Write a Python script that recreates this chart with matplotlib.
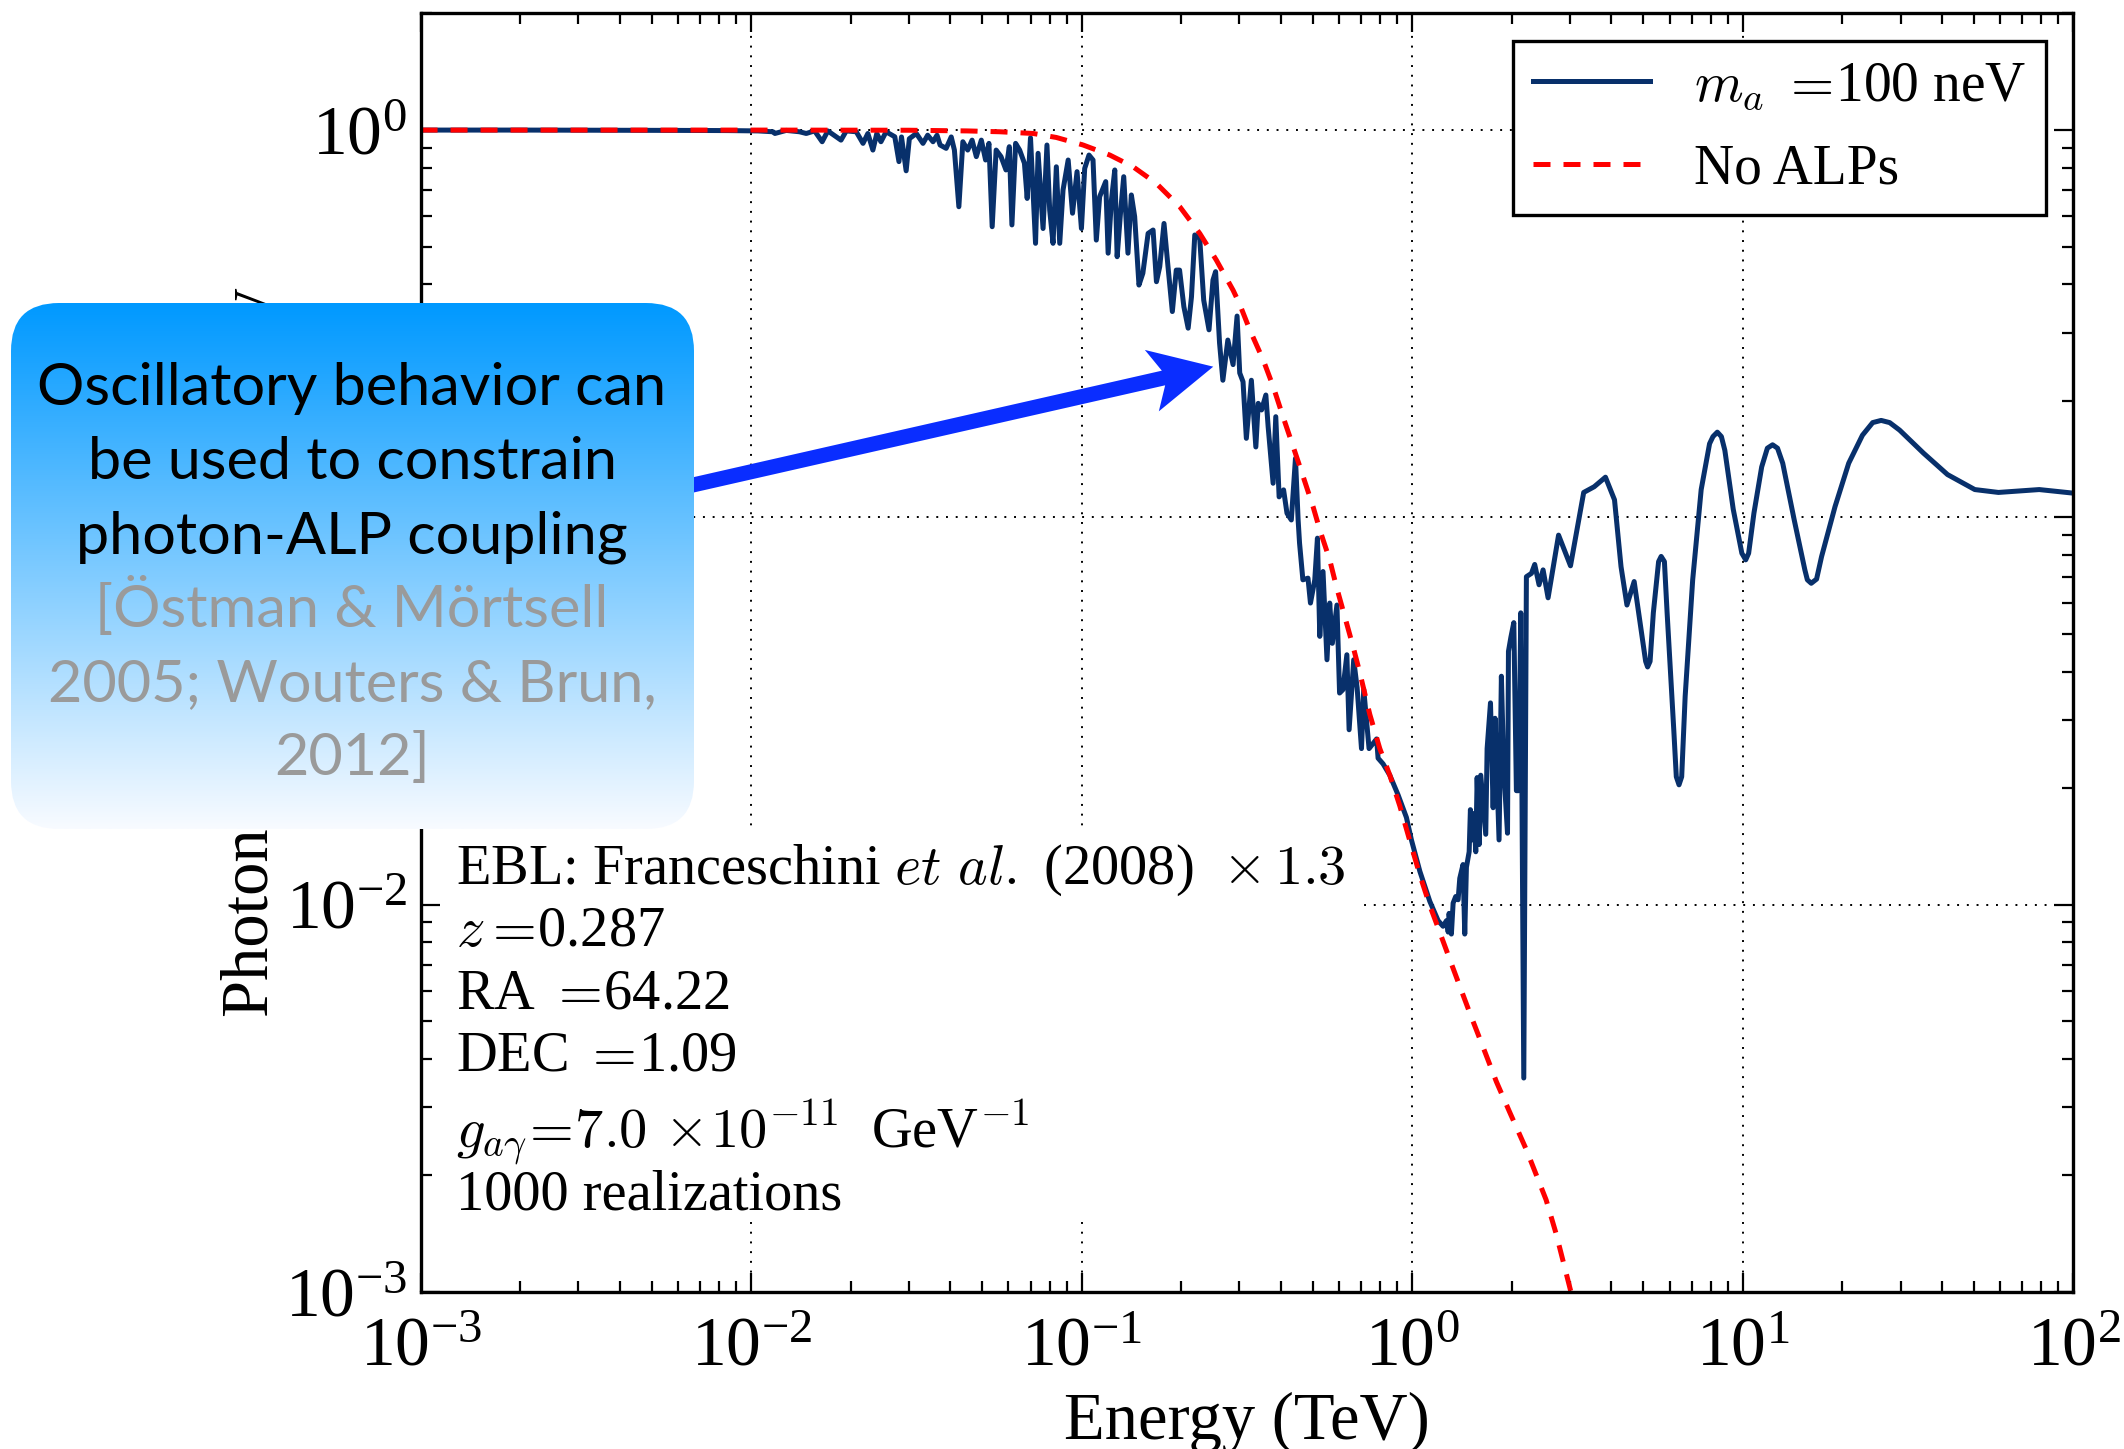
import numpy as np
import matplotlib
matplotlib.use("Agg")
import matplotlib.pyplot as plt
from matplotlib.patches import FancyBboxPatch, FancyArrow, Rectangle
from matplotlib.ticker import LogLocator

plt.rcParams['font.family'] = ['Liberation Serif', 'DejaVu Serif']
plt.rcParams['mathtext.fontset'] = 'cm'

# --- datos ---
# curva con ALPs (m_a = 100 neV), energia en TeV
energy_alp = [
    0.001, 0.002, 0.004, 0.006, 0.0085, 0.0105,
    0.01164, 0.0118, 0.01277, 0.0140, 0.01468, 0.01556, 0.0164, 0.01706, 0.0187, 0.0194,
    0.0208, 0.0218, 0.02255, 0.02335, 0.0240, 0.0247, 0.0256, 0.0272, 0.0280, 0.0285,
    0.02944, 0.0301, 0.0316, 0.0331, 0.0342, 0.0355, 0.0365, 0.0373, 0.0389, 0.0403,
    0.0412, 0.0425, 0.0437, 0.0452, 0.0466, 0.048, 0.0497, 0.0512, 0.0524, 0.0536,
    0.0551, 0.057, 0.059, 0.0604, 0.0615, 0.0631, 0.0649, 0.0671,
    0.0684, 0.070, 0.0725, 0.0738, 0.0764, 0.0785, 0.080, 0.0819, 0.0838, 0.0858,
    0.0878, 0.091, 0.0938, 0.0968, 0.0998, 0.1021, 0.1052, 0.1082, 0.1107, 0.1133,
    0.1182, 0.1202, 0.123, 0.1259, 0.128, 0.131, 0.134, 0.138, 0.1413, 0.1446,
    0.149, 0.1531, 0.1588, 0.1644, 0.1683, 0.1722, 0.1774, 0.1824, 0.188, 0.1932,
    0.1977, 0.2037, 0.2099, 0.2148, 0.2198, 0.2275, 0.2339, 0.2427, 0.2495, 0.2541,
    0.2612, 0.2673, 0.2767, 0.287, 0.2951,
    0.3006, 0.3076, 0.3148, 0.326, 0.3363, 0.342, 0.350, 0.3606, 0.3664, 0.3793,
    0.3864, 0.3955, 0.408, 0.4178, 0.4306, 0.4432, 0.4515,
    0.456, 0.4667, 0.4836, 0.492, 0.507, 0.5165, 0.525, 0.537, 0.552, 0.5626,
    0.573, 0.5916, 0.6026, 0.6166, 0.634, 0.644, 0.665,
    0.681, 0.702, 0.713, 0.740, 0.780, 0.788, 0.816, 0.855, 0.906, 0.960,
    0.994, 1.054, 1.13, 1.197, 1.239, 1.269, 1.284, 1.292, 1.313, 1.329,
    1.353, 1.376, 1.392, 1.424, 1.441, 1.458, 1.486, 1.499, 1.521, 1.535,
    1.556, 1.571, 1.593, 1.611, 1.668, 1.684, 1.724, 1.756, 1.780, 1.830,
    1.860, 1.891, 1.941, 1.954, 1.986, 2.028, 2.065, 2.099, 2.129, 2.174,
    2.214, 2.293, 2.346, 2.418, 2.487, 2.575,
    2.77, 3.01, 3.30, 3.55, 3.84, 4.09, 4.28, 4.46, 4.69, 4.94,
    5.08, 5.15, 5.24, 5.36, 5.56, 5.66, 5.79, 5.90, 6.18, 6.29, 6.41, 6.53, 6.69,
    7.05, 7.48, 7.93, 8.12, 8.37, 8.61, 8.82, 9.35, 9.93, 10.2, 10.41, 10.8,
    11.4, 11.86, 12.3, 12.73, 13.2, 14.3, 15.4, 15.67, 16.1, 16.71, 17.3, 19.0,
    20.9, 23.0, 24.7, 26.2, 27.8, 29.8, 35.2, 41.6, 50.3, 59.3, 78.8, 100.0,
]
prob_alp = [
    1.0, 1.0, 0.999, 0.998, 0.997, 0.995,
    0.99, 0.98, 0.998, 0.99, 0.98, 0.995, 0.933, 0.995, 0.942, 0.995,
    0.99, 0.924, 0.98, 0.888, 0.98, 0.933, 0.99, 0.961, 0.829, 0.96,
    0.785, 0.95, 0.98, 0.924, 0.97, 0.933, 0.97, 0.915, 0.897, 0.96,
    0.888, 0.634, 0.933, 0.888, 0.942, 0.854, 0.942, 0.837, 0.924, 0.563,
    0.888, 0.854, 0.789, 0.906, 0.569, 0.924, 0.888, 0.821,
    0.666, 0.955, 0.510, 0.871, 0.557, 0.915, 0.622, 0.510, 0.804, 0.510,
    0.700, 0.837, 0.610, 0.781, 0.557, 0.796, 0.862, 0.837, 0.520, 0.673,
    0.736, 0.481, 0.660, 0.789, 0.471, 0.610, 0.758, 0.481, 0.680, 0.598,
    0.398, 0.427, 0.541, 0.552, 0.406, 0.444, 0.574, 0.444, 0.340, 0.435,
    0.435, 0.350, 0.308, 0.371, 0.536, 0.525, 0.364, 0.305, 0.410, 0.431,
    0.282, 0.226, 0.287, 0.248, 0.331,
    0.236, 0.224, 0.160, 0.226, 0.152, 0.197, 0.1894, 0.207, 0.1715, 0.1225,
    0.182, 0.113, 0.1178, 0.1025, 0.0985, 0.142, 0.0985,
    0.0858, 0.069, 0.0697, 0.0601, 0.069, 0.0884, 0.0493, 0.0725, 0.0429, 0.0601,
    0.0473, 0.0594, 0.0352, 0.0359, 0.0442, 0.0283, 0.0429,
    0.0363, 0.0253, 0.036, 0.0253, 0.0268, 0.0239, 0.0231, 0.0216, 0.0192, 0.0168,
    0.0147, 0.0122, 0.0102, 0.0091, 0.0088, 0.0091, 0.0085, 0.0095, 0.0084, 0.0101,
    0.0105, 0.0103, 0.0117, 0.0127, 0.0084, 0.0125, 0.0137, 0.0176, 0.0147, 0.0172,
    0.0137, 0.0213, 0.0143, 0.0216, 0.0152, 0.0253, 0.0332, 0.0178, 0.0303, 0.0147,
    0.0389, 0.0223, 0.0153, 0.0451, 0.0489, 0.0535, 0.0197, 0.0197, 0.0567, 0.00357,
    0.0703, 0.0717, 0.0756, 0.067, 0.0732, 0.062,
    0.090, 0.075, 0.116, 0.120, 0.127, 0.111, 0.0746, 0.0594, 0.0683, 0.0503,
    0.0425, 0.0411, 0.0425, 0.0567, 0.0769, 0.0793, 0.0769, 0.0567, 0.0283, 0.0214, 0.0204, 0.0214, 0.0345,
    0.069, 0.118, 0.155, 0.1617, 0.166, 0.1617, 0.149, 0.105, 0.0808, 0.0777, 0.0808, 0.1025,
    0.135, 0.1509, 0.154, 0.1509, 0.138, 0.0985, 0.0732, 0.069, 0.0676, 0.0693, 0.0792, 0.1066,
    0.138, 0.163, 0.1757, 0.178, 0.1757, 0.168, 0.1465, 0.129, 0.118, 0.116, 0.118, 0.1155,
]

# curva sin ALPs
energy_noalp = [
    0.001, 0.01, 0.03, 0.045, 0.0565, 0.0713, 0.0838, 0.101, 0.1216, 0.143,
    0.168, 0.198, 0.2275, 0.2553, 0.287, 0.3006, 0.3224, 0.354, 0.3793, 0.4064,
    0.4365, 0.4677, 0.501, 0.525, 0.5626, 0.5894, 0.6246, 0.662, 0.694, 0.7438,
    0.7975, 0.855, 0.9167, 0.9827, 1.054, 1.13, 1.211, 1.298, 1.392, 1.492,
    1.637, 1.797, 1.972, 2.214, 2.54, 2.72, 3.02, 3.1,
]
prob_noalp = [
    1.0, 1.0, 0.999, 0.995, 0.990, 0.980, 0.957, 0.915, 0.862, 0.804,
    0.729, 0.634, 0.541, 0.462, 0.386, 0.355, 0.305, 0.255, 0.218, 0.182,
    0.152, 0.1274, 0.1066, 0.0929, 0.0777, 0.0663, 0.0555, 0.0464, 0.0397, 0.031,
    0.0253, 0.0216, 0.018, 0.01464, 0.01193, 0.00995, 0.00849, 0.00723, 0.00616, 0.00526,
    0.00429, 0.00349, 0.00291, 0.00233, 0.00173, 0.00142, 0.001, 0.00092,
]

info_lines = [
    r'EBL: Franceschini $et\ al.$ (2008)  $\times\,1.3$',
    r'$z=\!$0.287',
    r'RA $=\!$64.22',
    r'DEC $=\!$1.09',
    r'$g_{a\gamma}\!=\!7.0\,\times\!10^{-11}$  GeV$^{-1}$',
    '1000 realizations',
]
callout_black = ['Oscillatory behavior can', 'be used to constrain', 'photon-ALP coupling']
callout_gray = ['[Östman & Mörtsell', '2005; Wouters & Brun,', '2012]']

# --- figura ---
W, H = 2124, 1449
fig = plt.figure(figsize=(W / 200, H / 200), dpi=200)
ax = fig.add_axes([0.198, 0.1083, 0.7782, 0.8824])

ax.plot(energy_alp, prob_alp, color='#08306b', lw=1.8, label=r'$m_a$ $=\!$100 neV', zorder=2)
ax.plot(energy_noalp, prob_noalp, color='red', lw=1.8, dashes=(3.4, 2.6), label='No ALPs', zorder=2.1)

ax.set_xscale('log')
ax.set_yscale('log')
ax.set_xlim(1e-3, 1e2)
ax.set_ylim(1e-3, 2)
for axis in (ax.xaxis, ax.yaxis):
    axis.set_major_locator(LogLocator(base=10, numticks=12))
    axis.set_minor_locator(LogLocator(base=10, subs=np.arange(2, 10), numticks=12))
ax.tick_params(which='both', direction='in', top=True, right=True, width=0.8)
ax.tick_params(which='major', length=7, labelsize=25)
ax.tick_params(axis='x', which='major', pad=9)
ax.tick_params(axis='y', which='major', pad=5)
ax.tick_params(which='minor', length=4)
for s in ax.spines.values():
    s.set_linewidth(1.2)

# rejilla punteada en las decadas
for xv in ax.get_xticks():
    if 1e-3 < xv < 1e2:
        ax.axvline(xv, color='k', lw=0.7, dashes=(1, 4), zorder=1)
for yv in ax.get_yticks():
    if 1e-3 < yv < 2:
        ax.axhline(yv, color='k', lw=0.7, dashes=(1, 4), zorder=1)

ax.set_xlabel('Energy (TeV)', fontsize=24, labelpad=4)
ax.set_ylabel('Photon survival probability', fontsize=24, labelpad=1)

# fondo blanco del bloque de texto
ax.add_patch(Rectangle((0, 0.055), 0.568, 0.305, transform=ax.transAxes,
                       fc='white', ec='none', zorder=1.2))
y_lines = [0.319, 0.2706, 0.2221, 0.1736, 0.1134, 0.0649]
for txt, yy in zip(info_lines, y_lines):
    ax.text(0.0212, yy, txt, transform=ax.transAxes, fontsize=20.3,
            ha='left', va='baseline', zorder=3)

leg = ax.legend(loc='upper right', fontsize=20, fancybox=False, edgecolor='k',
                framealpha=1, handlelength=2.1, handletextpad=0.8, borderpad=0.35,
                labelspacing=0.55, borderaxespad=0.5)
leg.get_frame().set_linewidth(1.2)
leg.set_zorder(5)

# --- capa superior: recuadro y flecha ---
ov = fig.add_axes([0, 0, 1, 1], zorder=10)
ov.axis('off')

box = FancyBboxPatch((11, 303), 683, 526, boxstyle='round,pad=0,rounding_size=48',
                     fc='none', ec='none', zorder=2)
ov.add_patch(box)
t = np.linspace(0, 1, 256)[:, None, None]
c_top = np.array([0, 153, 255]) / 255
c_bot = np.array([248, 251, 255]) / 255
grad = c_top + (c_bot - c_top) * t
im = ov.imshow(grad, extent=(11, 694, 829, 303), aspect='auto', zorder=2,
               interpolation='bilinear')
im.set_clip_path(box)
ov.set_xlim(0, W)
ov.set_ylim(H, 0)

tip = ax.transData.transform((0.25, 0.245))
tx, ty = tip[0], H - tip[1]
x0 = 600
y0 = ty + (tx - x0) * 0.2274
ov.add_patch(FancyArrow(x0, y0, tx - x0, ty - y0, width=15, head_width=63,
                        head_length=63, overhang=0.19, length_includes_head=True,
                        color='#0a2dff', lw=0, zorder=1))

for i, txt in enumerate(callout_black):
    ov.text(352, 405 + 74 * i, txt, ha='center', va='baseline', fontsize=21.4,
            family=['Lato', 'DejaVu Sans'], color='black', zorder=3)
for i, txt in enumerate(callout_gray):
    ov.text(352, 627 + 74 * i, txt, ha='center', va='baseline', fontsize=21.4,
            family=['Lato', 'DejaVu Sans'], color='#9a9a9a', zorder=3)

fig.savefig('out.png', dpi=200)
